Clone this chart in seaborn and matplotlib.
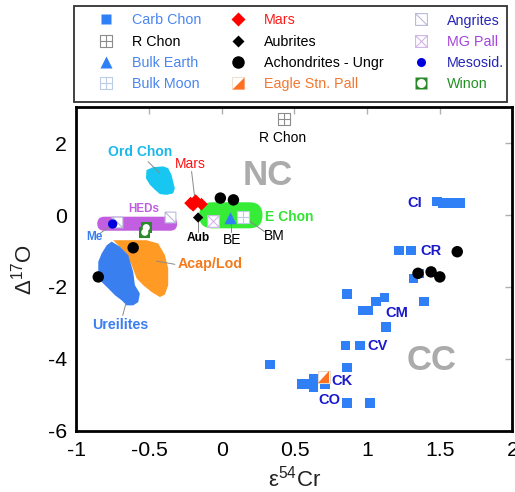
import matplotlib
matplotlib.use("Agg")
import matplotlib.pyplot as plt
import seaborn as sns
from matplotlib.path import Path
from matplotlib.patches import Polygon, FancyBboxPatch, Rectangle
from matplotlib.lines import Line2D

sns.set_theme(style="white")
plt.rcParams["font.family"] = ["Liberation Sans", "DejaVu Sans"]
plt.rcParams["mathtext.fontset"] = "custom"
plt.rcParams["mathtext.rm"] = "Liberation Sans"
plt.rcParams["mathtext.it"] = "Liberation Sans:italic"

# ---- point data (eps54Cr, D17O) ----
carb_x = [1.48, 1.52, 1.58, 1.64, 1.22, 1.30, 1.36, 1.32, 1.39, 0.86, 0.97, 1.01,
          1.06, 1.12, 1.13, 0.85, 0.95, 0.33, 0.86, 0.55, 0.57, 0.63, 0.63, 0.71,
          0.86, 1.02]
carb_y = [0.37, 0.33, 0.34, 0.33, -0.99, -0.99, -1.62, -1.76, -2.40, -2.20, -2.65, -2.65,
          -2.40, -2.29, -3.11, -3.63, -3.63, -4.15, -4.24, -4.69, -4.69, -4.55, -4.78, -4.71,
          -5.23, -5.23]
ungr_x = [1.62, 1.35, 1.44, 1.50, -0.01, 0.08, -0.61, -0.85]
ungr_y = [-1.02, -1.62, -1.58, -1.72, 0.47, 0.42, -0.91, -1.72]
mars_x = [-0.215, -0.18, -0.14, -0.197]
mars_y = [0.33, 0.40, 0.30, 0.27]
aub_x, aub_y = [-0.163], [-0.07]
mgpall_x, mgpall_y = [-0.06], [-0.17]
earth_x, earth_y = [0.06], [-0.09]
moon_x, moon_y = [0.146], [-0.05]
rchon_x, rchon_y = [0.428], [2.67]
angr_x = [-0.724, -0.357]
angr_y = [-0.19, -0.06]
meso_x, meso_y = [-0.751], [-0.25]
winon_x = [-0.52, -0.53]
winon_y = [-0.35, -0.48]
eagle_x, eagle_y = [0.70], [-4.50]

# ---- field outlines ----
ord_x = [-0.518, -0.472, -0.403, -0.369, -0.346, -0.335, -0.323, -0.335, -0.380, -0.426, -0.460, -0.495, -0.522]
ord_y = [1.25, 1.33, 1.35, 1.30, 1.11, 0.93, 0.74, 0.60, 0.56, 0.58, 0.70, 0.84, 1.02]
acap_x = [-0.747, -0.518, -0.438, -0.392, -0.369, -0.369, -0.392, -0.426, -0.483, -0.541, -0.586, -0.621, -0.655, -0.713]
acap_y = [-0.70, -0.70, -0.79, -1.11, -1.48, -1.95, -2.21, -2.28, -2.14, -1.95, -1.76, -1.39, -1.07, -0.84]
ure_x = [-0.758, -0.701, -0.644, -0.610, -0.598, -0.564, -0.575, -0.610, -0.655, -0.689, -0.735, -0.781, -0.827, -0.850, -0.850, -0.827, -0.792]
ure_y = [-0.74, -0.88, -1.11, -1.58, -1.95, -2.18, -2.42, -2.51, -2.51, -2.37, -2.23, -2.04, -1.86, -1.58, -1.30, -1.07, -0.84]
# stadium fields: x0, x1, y0, y1
heds_box = [-0.857, -0.307, -0.437, -0.047]
echon_box = [-0.156, 0.280, -0.370, 0.354]

# ---- marker paths ----
SQ = [(-1, -1), (1, -1), (1, 1), (-1, 1), (-1, -1)]
SQC = [Path.MOVETO, Path.LINETO, Path.LINETO, Path.LINETO, Path.CLOSEPOLY]
plus_m = Path(SQ + [(0, -1), (0, 1), (-1, 0), (1, 0)],
              SQC + [Path.MOVETO, Path.LINETO, Path.MOVETO, Path.LINETO])
diag_m = Path(SQ + [(-1, 1), (1, -1)], SQC + [Path.MOVETO, Path.LINETO])
cross_m = Path(SQ + [(-1, 1), (1, -1), (-1, -1), (1, 1)],
               SQC + [Path.MOVETO, Path.LINETO, Path.MOVETO, Path.LINETO])
tri_m = Path([(-1, -1), (1, -1), (1, 1), (-1, -1)],
             [Path.MOVETO, Path.LINETO, Path.LINETO, Path.CLOSEPOLY])
sq_m = Path(SQ, SQC)

BLUE = "#2f7ff7"
fig = plt.figure(figsize=(5.15, 4.92), dpi=100)
ax = fig.add_axes([0.1485, 0.124, 0.8466, 0.6585])

# fields
ax.add_patch(Polygon(list(zip(ord_x, ord_y)), closed=True, fc="#17c7f2", ec="none", zorder=1))
ax.add_patch(Polygon(list(zip(acap_x, acap_y)), closed=True, fc="#ff9a24", ec="none", zorder=1))
ax.add_patch(Polygon(list(zip(ure_x, ure_y)), closed=True, fc="#3a7ff0", ec="none", zorder=1.2))
asp = (1 / 35.9) / (1 / 145.5)
for box, col in [(heds_box, "#c15fe0"), (echon_box, "#36ec36")]:
    h = box[3] - box[2]
    ax.add_patch(FancyBboxPatch((box[0], box[2]), box[1] - box[0], h,
                                boxstyle=f"round,pad=0,rounding_size={h / asp / 2:.4f}",
                                mutation_aspect=asp, fc=col, ec="none", zorder=1.1))

# leader lines
leaders = [((-0.507, -0.426), (1.48, 1.16)), ((-0.208, -0.186), (1.21, 0.47)),
           ((-0.838, -0.758), (-0.51, -0.28)), ((-0.163, -0.163), (-0.14, -0.47)),
           ((0.060, 0.060), (-0.19, -0.47)), ((0.167, 0.293), (-0.10, -0.46)),
           ((-0.449, -0.323), (-1.28, -1.37)), ((-0.660, -0.682), (-2.46, -2.79))]
for lx, ly in leaders:
    ax.plot(lx, ly, color="#8a8a8a", lw=0.7, zorder=2)

# points
def pts(x, y, marker, size, fc, ec="none", lw=0.8, z=3):
    sns.scatterplot(x=x, y=y, marker=marker, s=size, color=fc, edgecolor=ec,
                    linewidth=lw, ax=ax, zorder=z, legend=False)

pts(carb_x, carb_y, "s", 48, BLUE)
pts(winon_x, winon_y, "s", 60, "#2a8a2a", z=3)
pts(winon_x, winon_y, "o", 26, "white", z=3.1)
pts(angr_x, angr_y, diag_m, 60, "white", ec="#b9b9d9", z=3)
pts(meso_x, meso_y, "o", 45, "#0000dd", z=3.5)
pts(mars_x, mars_y, "D", 42, "#ff0000", z=3)
pts(aub_x, aub_y, "D", 28, "black", z=3.2)
pts(mgpall_x, mgpall_y, cross_m, 70, "white", ec="#d2b4ea", z=3.2)
pts(earth_x, earth_y, "^", 75, BLUE, z=3.3)
pts(moon_x, moon_y, plus_m, 70, "white", ec="#bccbe6", z=3.3)
pts(rchon_x, rchon_y, plus_m, 75, "white", ec="#8c8c8c", z=3)
pts(eagle_x, eagle_y, sq_m, 70, "white", ec="#e8d8c8", z=3.4)
pts(eagle_x, eagle_y, tri_m, 70, "#ff7020", z=3.5)
pts(ungr_x, ungr_y, "o", 68, "black", z=4)

# labels
bold = dict(fontweight="bold", ha="center", va="center", zorder=5)
reg = dict(ha="center", va="center", zorder=5)
ax.text(-0.564, 1.76, "Ord Chon", color="#1ab8ea", fontsize=10, **bold)
ax.text(-0.22, 1.41, "Mars", color="#ff1010", fontsize=10, **reg)
ax.text(0.316, 1.11, "NC", color="#ababab", fontsize=25, **bold)
ax.text(-0.536, 0.16, "HEDs", color="#c060e0", fontsize=8.4, **bold)
ax.text(-0.873, -0.60, "Me", color="#3a7ff0", fontsize=8.5, **bold)
ax.text(-0.163, -0.65, "Aub", color="black", fontsize=8.6, **bold)
ax.text(0.074, -0.70, "BE", color="black", fontsize=10, **reg)
ax.text(0.364, -0.58, "BM", color="black", fontsize=10, **reg)
ax.text(0.463, -0.06, "E Chon", color="#33e433", fontsize=10, **bold)
ax.text(-0.077, -1.35, "Acap/Lod", color="#f47a1c", fontsize=10.3, **bold)
ax.text(-0.701, -3.06, "Ureilites", color="#3a7ff0", fontsize=10.3, **bold)
ax.text(0.421, 2.14, "R Chon", color="black", fontsize=10, **reg)
ax.text(1.441, -4.04, "CC", color="#ababab", fontsize=25, **bold)
for t, x, y in [("CI", 1.331, 0.33), ("CR", 1.436, -0.99), ("CM", 1.201, -2.72),
                ("CV", 1.074, -3.65), ("CK", 0.829, -4.62), ("CO", 0.738, -5.13)]:
    ax.text(x, y, t, color="#1a1acd", fontsize=10.5, **bold)

# axes styling
ax.set_xlim(-1, 2)
ax.set_ylim(-6, 3)
ax.set_xticks([-1, -0.5, 0, 0.5, 1, 1.5, 2])
ax.set_xticklabels(["-1", "-0.5", "0", "0.5", "1", "1.5", "2"])
ax.set_yticks([-6, -4, -2, 0, 2])
ax.set_yticklabels(["-6", "-4", "-2", "0", "2"])
ax.tick_params(direction="in", length=5, width=1, color="#b0b0b0", top=True, right=True,
               labelsize=15.3, pad=7, labelcolor="black")
for sp in ax.spines.values():
    sp.set_linewidth(2)
    sp.set_color("black")
ax.set_xlabel(r"$\mathregular{\varepsilon^{54}Cr}$", fontsize=16, labelpad=4, color="#222")
ax.set_ylabel(r"$\mathregular{\Delta^{17}O}$", fontsize=16, labelpad=8, color="#222")

# legend
def h(marker, ms, fc, ec="none", mew=0.8):
    return Line2D([], [], ls="none", marker=marker, markersize=ms, markerfacecolor=fc,
                  markeredgecolor=ec, markeredgewidth=mew)

handles = [h("s", 7, BLUE), h(plus_m, 8.5, "white", "#8c8c8c"), h("^", 9, BLUE),
           h(plus_m, 8.5, "white", "#bccbe6"),
           h("D", 7.5, "#ff0000"), h("D", 6, "black"), h("o", 9, "black"),
           (h(sq_m, 8.5, "white", "#f0e0d0"), h(tri_m, 8.5, "#ff7020")),
           h(diag_m, 8.5, "white", "#b9b9d9"), h(cross_m, 8.5, "white", "#d2b4ea"),
           h("o", 6.5, "#0000dd"), (h("s", 9, "#2a8a2a"), h("o", 6.5, "white"))]
labels = ["Carb Chon", "R Chon", "Bulk Earth", "Bulk Moon", "Mars", "Aubrites",
          "Achondrites - Ungr", "Eagle Stn. Pall", "Angrites", "MG Pall", "Mesosid.", "Winon"]
lcolors = ["#4a86ee", "black", "#4a86ee", "#4a86ee", "#ff1a1a", "black", "black",
           "#f07830", "#2626b8", "#a444dc", "#2626b8", "#229022"]
fig.legend(handles, labels, ncol=3, loc="upper left", bbox_to_anchor=(94.6 / 515, 1 - 13.5 / 492),
           frameon=False, fontsize=10.3, handlelength=1.6, handletextpad=1.0,
           columnspacing=1.8, labelspacing=0.5, labelcolor=lcolors, borderpad=0,
           borderaxespad=0)
fig.patches.append(Rectangle((74 / 515, 1 - 102 / 492), 433.3 / 515, 96 / 492,
                             transform=fig.transFigure, fill=False, ec="#333333", lw=1.3))

fig.savefig("out.png", dpi=100)
